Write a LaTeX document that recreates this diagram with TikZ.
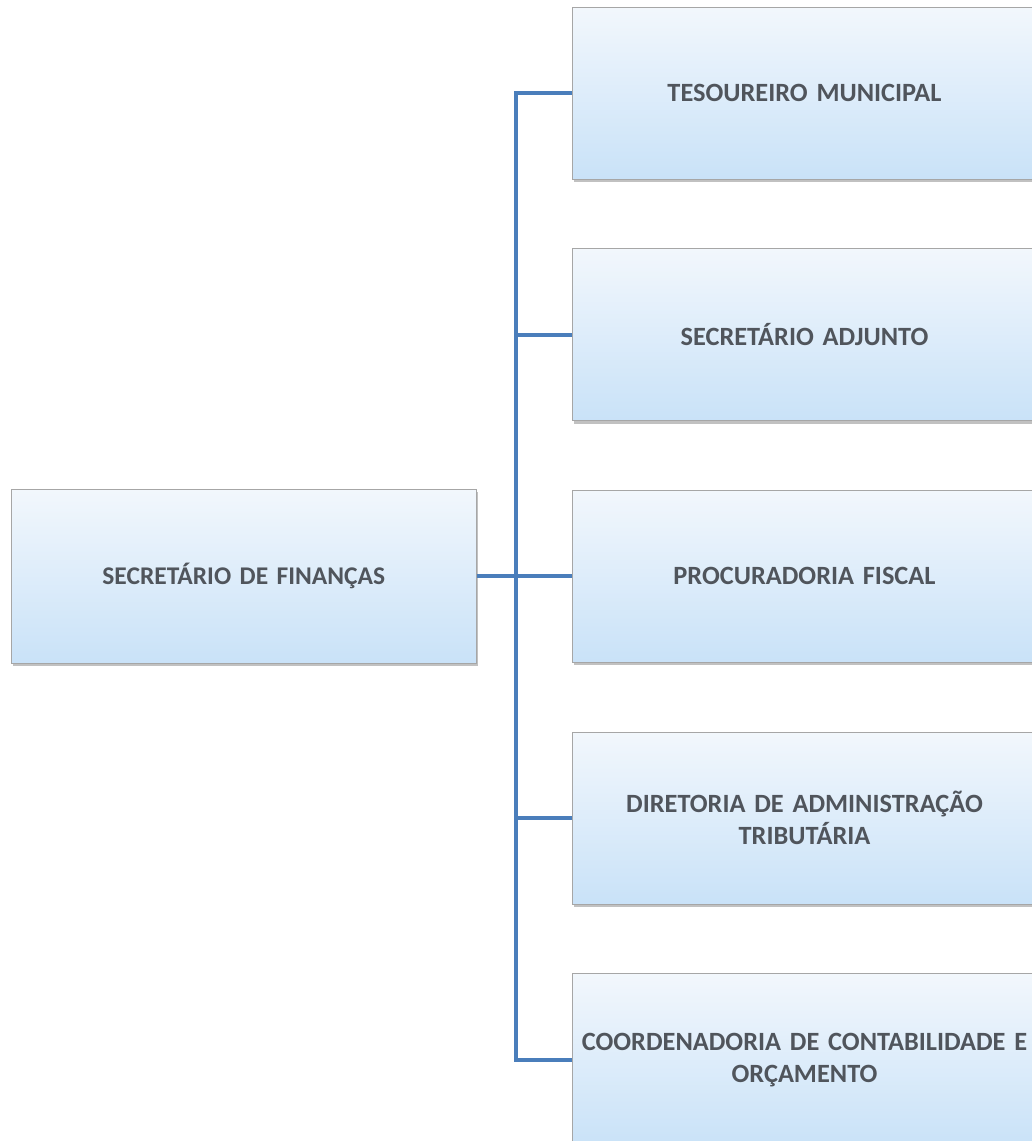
\documentclass[tikz,border=0pt]{standalone}
\usepackage{fontspec}
\setmainfont{Carlito}[WordSpace=0.75]
\usetikzlibrary{positioning, shadows}

\definecolor{linkblue}{HTML}{4A7EBB}
\definecolor{boxtop}{HTML}{F2F7FC}
\definecolor{boxbottom}{HTML}{C9E2F8}
\definecolor{boxtext}{HTML}{50555C}

\begin{document}
\begin{tikzpicture}[node distance=1.4cm]
    \tikzstyle{unit} = [rectangle,minimum width=9.3cm,minimum height=3.44cm,text width=9.0cm,inner xsep=0.1cm,align=center,
        draw=gray!70,thin,top color=boxtop,bottom color=boxbottom,
        drop shadow={shadow xshift=0.4mm,shadow yshift=-0.6mm,fill=gray!60,opacity=0.8},
        font=\fontsize{15}{18}\selectfont\bfseries,text=boxtext]
    \tikzstyle{link} = [draw=linkblue,line width=2.2pt]
    \useasboundingbox (0,0) rectangle (20.64,-22.82);

    \node (tes) [unit] at (16.09,-1.86) {TESOUREIRO MUNICIPAL};
    \node (adj) [unit, below=1.38cm of tes] {SECRETÁRIO ADJUNTO};
    \node (proc) [unit, below=1.38cm of adj] {PROCURADORIA FISCAL};
    \node (dir) [unit, below=1.38cm of proc] {DIRETORIA DE ADMINISTRAÇÃO\\TRIBUTÁRIA};
    \node (coord) [unit, below=1.38cm of dir] {COORDENADORIA DE CONTABILIDADE E\\ORÇAMENTO};

    \node (sec) [unit, minimum height=3.48cm, left=1.9cm of proc,
        font=\fontsize{14.5}{17}\selectfont\bfseries] {SECRETÁRIO DE FINANÇAS};

    \coordinate (top) at ([xshift=-1.12cm]tes.west);
    \draw [link] (sec.east) -- (proc.west);
    \draw [link] (tes.west) -| (coord.west -| top) -- (coord.west);
    \foreach \n in {adj, dir}
        \draw [link] (\n.west) -- (\n.west -| top);

\end{tikzpicture}
\end{document}
